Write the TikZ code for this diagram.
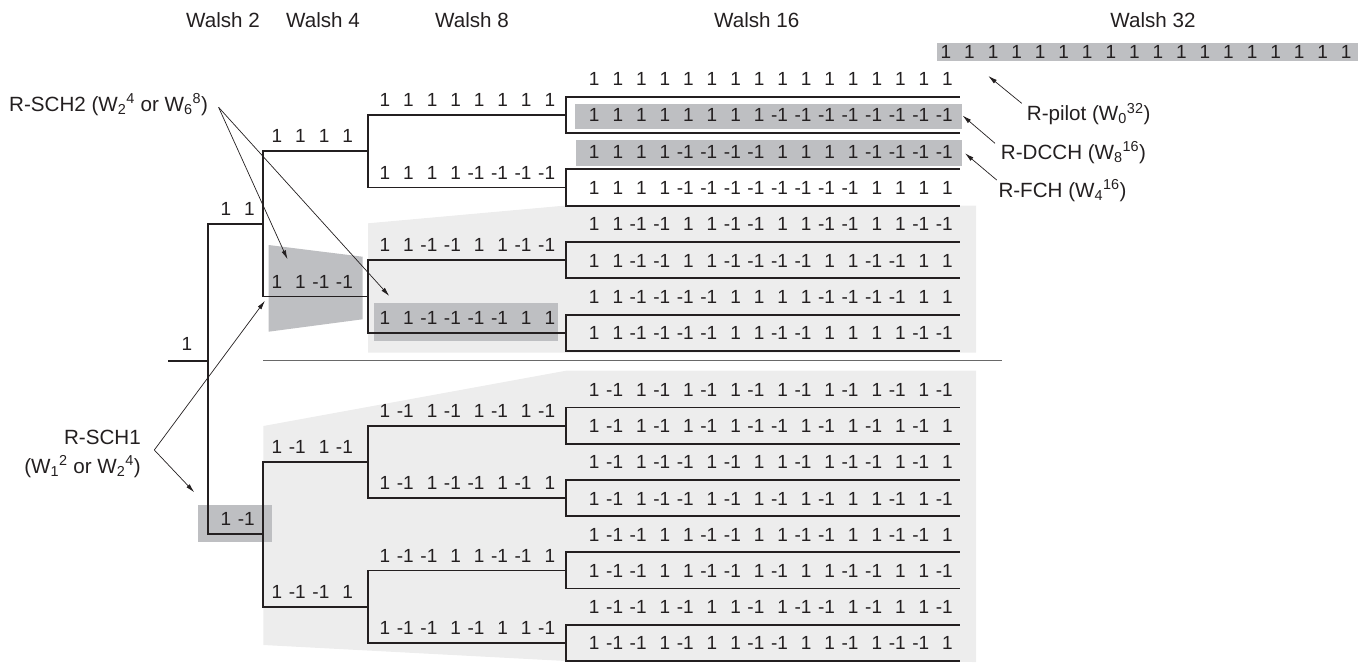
\documentclass[tikz,border=0pt]{standalone}
\usepackage{fontspec}
\setmainfont{Liberation Sans}
\usetikzlibrary{arrows.meta,positioning,calc}
\definecolor{darkbar}{RGB}{190,191,194}
\definecolor{lightbg}{RGB}{237,237,237}
\definecolor{rulegray}{RGB}{105,105,105}
\definecolor{ink}{RGB}{35,31,32}
\newlength{\chipw}\setlength{\chipw}{23.55pt}
\newcommand{\wcode}[1]{\foreach \wv in {#1}{\makebox[\chipw][r]{\wv}}}

\begin{document}
\begin{tikzpicture}[x=1pt, y=-1pt,
    code/.style={anchor=west, inner sep=0pt, text=ink, font=\fontsize{19}{20}\selectfont},
    c16/.style={code, xshift=9.8pt, yshift=17.6pt},
    c8/.style={code, xshift=-1.5pt, yshift=14.8pt},
    c4/.style={code, xshift=-4.5pt, yshift=15pt},
    c2/.style={code, xshift=-0.5pt, yshift=15pt},
    lbl/.style={inner sep=0pt, text=ink, font=\fontsize{20.6}{29}\selectfont},
    tree/.style={line width=1.8pt, ink, line cap=rect},
    ptr/.style={-{Latex[length=9pt,width=4.5pt]}, line width=0.7pt, ink},
]
    \useasboundingbox (0,0) rectangle (1369,662);

    % shaded halves
    \fill[lightbg] (368,223.3) -- (566,205.5) -- (976,205.5) -- (976,352.7) -- (368,352.7) -- cycle;
    \fill[lightbg] (263.3,426) -- (566,370.7) -- (976,370.7) -- (976,662) -- (566,661) -- (263.3,645) -- cycle;
    \draw[rulegray, line width=1.3pt] (263.3,360.7) -- (1001.7,360.7);

    % highlighted codes
    \fill[darkbar] (936.7,43.3) rectangle (1357.7,61);
    \fill[darkbar] (575,104.3) rectangle (961.7,129.3);
    \fill[darkbar] (576,140) rectangle (961.7,165.5);
    \fill[darkbar] (374,303.3) rectangle (557.7,340.7);
    \fill[darkbar] (268.6,245) -- (362.5,256.7) -- (362.5,319.3) -- (268.6,331.7) -- cycle;
    \fill[darkbar] (198.3,505) rectangle (271.7,542.3);

    % code tree, built from the leaves back to the root
    \foreach \n/\yy in {0/96.6,1/132.95,2/169.3,3/205.65,4/242,5/278.35,6/314.7,7/351.05,
                        8/407.5,9/443.7,10/479.9,11/516.1,12/552.3,13/588.5,14/624.7,15/660.9}{
        \coordinate (s16-\n) at (566,\yy);
        \draw[tree] (s16-\n) -- ++(393,0);
    }
    \foreach \n in {0,...,7}{
        \pgfmathtruncatemacro\ia{2*\n}\pgfmathtruncatemacro\ib{2*\n+1}
        \draw[tree] (s16-\ia) -- (s16-\ib);
        \path ($(s16-\ia)!.5!(s16-\ib)$) coordinate (m8-\n) ++(-198,0) coordinate (s8-\n);
        \draw[tree] (s8-\n) -- (m8-\n);
    }
    \foreach \n in {0,...,3}{
        \pgfmathtruncatemacro\ia{2*\n}\pgfmathtruncatemacro\ib{2*\n+1}
        \draw[tree] (s8-\ia) -- (s8-\ib);
        \path ($(s8-\ia)!.5!(s8-\ib)$) coordinate (m4-\n) ++(-105,0) coordinate (s4-\n);
        \draw[tree] (s4-\n) -- (m4-\n);
    }
    \foreach \n in {0,1}{
        \pgfmathtruncatemacro\ia{2*\n}\pgfmathtruncatemacro\ib{2*\n+1}
        \draw[tree] (s4-\ia) -- (s4-\ib);
        \path ($(s4-\ia)!.5!(s4-\ib)$) coordinate (m2-\n) ++(-55,0) coordinate (s2-\n);
        \draw[tree] (s2-\n) -- (m2-\n);
    }
    \draw[tree] (s2-0) -- (s2-1);
    \coordinate (root) at (169,360.7);
    \draw[tree] (root) -- (root -| s2-0);

    % codes
    \node[code, xshift=-0.55pt, yshift=16.7pt] (c1) at (root) {\wcode{1}};
    \node[c2] (c2-0) at (s2-0) {\wcode{1,1}};
    \node[c2] (c2-1) at (s2-1) {\wcode{1,-1}};
    \node[c4] (c4-0) at (s4-0) {\wcode{1,1,1,1}};
    \node[c4] (c4-1) at (s4-1) {\wcode{1,1,-1,-1}};
    \node[c4] (c4-2) at (s4-2) {\wcode{1,-1,1,-1}};
    \node[c4] (c4-3) at (s4-3) {\wcode{1,-1,-1,1}};
    \node[c8] (c8-0) at (s8-0) {\wcode{1,1,1,1,1,1,1,1}};
    \node[c8] (c8-1) at (s8-1) {\wcode{1,1,1,1,-1,-1,-1,-1}};
    \node[c8] (c8-2) at (s8-2) {\wcode{1,1,-1,-1,1,1,-1,-1}};
    \node[c8] (c8-3) at (s8-3) {\wcode{1,1,-1,-1,-1,-1,1,1}};
    \node[c8] (c8-4) at (s8-4) {\wcode{1,-1,1,-1,1,-1,1,-1}};
    \node[c8] (c8-5) at (s8-5) {\wcode{1,-1,1,-1,-1,1,-1,1}};
    \node[c8] (c8-6) at (s8-6) {\wcode{1,-1,-1,1,1,-1,-1,1}};
    \node[c8] (c8-7) at (s8-7) {\wcode{1,-1,-1,1,-1,1,1,-1}};
    \node[c16] (c16-0) at (s16-0) {\wcode{1,1,1,1,1,1,1,1,1,1,1,1,1,1,1,1}};
    \node[c16] (c16-1) at (s16-1) {\wcode{1,1,1,1,1,1,1,1,-1,-1,-1,-1,-1,-1,-1,-1}};
    \node[c16] (c16-2) at (s16-2) {\wcode{1,1,1,1,-1,-1,-1,-1,1,1,1,1,-1,-1,-1,-1}};
    \node[c16] (c16-3) at (s16-3) {\wcode{1,1,1,1,-1,-1,-1,-1,-1,-1,-1,-1,1,1,1,1}};
    \node[c16] (c16-4) at (s16-4) {\wcode{1,1,-1,-1,1,1,-1,-1,1,1,-1,-1,1,1,-1,-1}};
    \node[c16] (c16-5) at (s16-5) {\wcode{1,1,-1,-1,1,1,-1,-1,-1,-1,1,1,-1,-1,1,1}};
    \node[c16] (c16-6) at (s16-6) {\wcode{1,1,-1,-1,-1,-1,1,1,1,1,-1,-1,-1,-1,1,1}};
    \node[c16] (c16-7) at (s16-7) {\wcode{1,1,-1,-1,-1,-1,1,1,-1,-1,1,1,1,1,-1,-1}};
    \node[c16] (c16-8) at (s16-8) {\wcode{1,-1,1,-1,1,-1,1,-1,1,-1,1,-1,1,-1,1,-1}};
    \node[c16] (c16-9) at (s16-9) {\wcode{1,-1,1,-1,1,-1,1,-1,-1,1,-1,1,-1,1,-1,1}};
    \node[c16] (c16-10) at (s16-10) {\wcode{1,-1,1,-1,-1,1,-1,1,1,-1,1,-1,-1,1,-1,1}};
    \node[c16] (c16-11) at (s16-11) {\wcode{1,-1,1,-1,-1,1,-1,1,-1,1,-1,1,1,-1,1,-1}};
    \node[c16] (c16-12) at (s16-12) {\wcode{1,-1,-1,1,1,-1,-1,1,1,-1,-1,1,1,-1,-1,1}};
    \node[c16] (c16-13) at (s16-13) {\wcode{1,-1,-1,1,1,-1,-1,1,-1,1,1,-1,-1,1,1,-1}};
    \node[c16] (c16-14) at (s16-14) {\wcode{1,-1,-1,1,-1,1,1,-1,1,-1,-1,1,-1,1,1,-1}};
    \node[c16] (c16-15) at (s16-15) {\wcode{1,-1,-1,1,-1,1,1,-1,-1,1,1,-1,1,-1,-1,1}};
    \node[code] (c32) at (927.5,52) {\wcode{1,1,1,1,1,1,1,1,1,1,1,1,1,1,1,1,1,1}};

    % column heads
    \node[lbl, anchor=base] (h2)  at (223,27.3)  {Walsh 2};
    \node[lbl, anchor=base] (h4)  at (323,27.3)  {Walsh 4};
    \node[lbl, anchor=base] (h8)  at (472,27.3)  {Walsh 8};
    \node[lbl, anchor=base] (h16) at (756.7,27.3) {Walsh 16};
    \node[lbl, anchor=base] (h32) at (1153,27.3) {Walsh 32};

    % channel labels
    \node[lbl, anchor=base west] (sch2) at (9,111)
        {R-SCH2 (W\textsubscript{2}\textsuperscript{4} or W\textsubscript{6}\textsuperscript{8})};
    \node[lbl, anchor=east, align=right] (sch1) at (141,453.7)
        {R-SCH1\\(W\textsubscript{1}\textsuperscript{2} or W\textsubscript{2}\textsuperscript{4})};
    \node[lbl, anchor=base west] (pilot) at (1026.7,120.7) {R-pilot (W\textsubscript{0}\textsuperscript{32})};
    \node[lbl, anchor=base west] (dcch)  at (1000.7,159.3) {R-DCCH (W\textsubscript{8}\textsuperscript{16})};
    \node[lbl, anchor=base west] (fch)   at (998.3,197.3)  {R-FCH (W\textsubscript{4}\textsuperscript{16})};

    % pointers
    \coordinate (sch2-tail) at (218.6,107.3);
    \coordinate (sch2-hd1)  at (287.5,259.3);
    \coordinate (sch2-hd2)  at (389.3,296);
    \coordinate (sch1-tail) at (154.3,450);
    \coordinate (sch1-hd1)  at (194.3,492.3);
    \coordinate (sch1-hd2)  at (265,300.7);
    \coordinate (pilot-tail) at (1021.7,103.3);
    \coordinate (pilot-hd)   at (988.3,76);
    \coordinate (dcch-tail)  at (995,143.3);
    \coordinate (dcch-hd)    at (962.5,115.5);
    \coordinate (fch-tail)   at (996.7,180);
    \coordinate (fch-hd)     at (965,153.3);
    \draw[ptr] (sch2-tail) -- (sch2-hd1);
    \draw[ptr] (sch2-tail) -- (sch2-hd2);
    \draw[ptr] (sch1-tail) -- (sch1-hd1);
    \draw[ptr] (sch1-tail) -- (sch1-hd2);
    \draw[ptr] (pilot-tail) -- (pilot-hd);
    \draw[ptr] (dcch-tail) -- (dcch-hd);
    \draw[ptr] (fch-tail) -- (fch-hd);
\end{tikzpicture}
\end{document}
